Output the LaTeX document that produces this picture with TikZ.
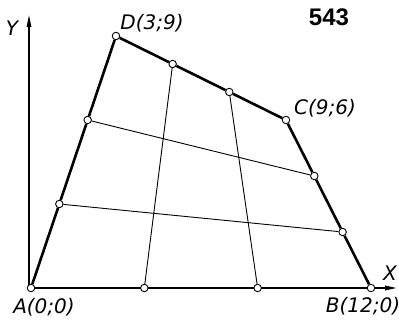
\documentclass[tikz,border=0pt]{standalone}
\usepackage{fontspec}
\usetikzlibrary{arrows.meta}
\newfontfamily\lblfont{DejaVu Sans}
\newfontfamily\numfont{Liberation Sans}
\begin{document}
\begin{tikzpicture}[x=28.33pt,y=28pt,
  pt/.style={circle,draw,fill=white,inner sep=0pt,minimum size=7.5pt,line width=0.9pt},
  edge/.style={line width=2.6pt},
  gridline/.style={line width=0.9pt},
  axis/.style={line width=1.3pt,-{Triangle[length=12pt,width=4.5pt]}},
  lbl/.style={font=\lblfont\itshape\fontsize{20}{22}\selectfont,inner sep=0pt},
  num/.style={font=\numfont\bfseries\fontsize{24}{26}\selectfont,inner sep=0pt},
]
\useasboundingbox (-31pt,-36pt) rectangle (368pt,288pt);
% axes
\coordinate (O) at (-2pt,0pt);
\coordinate (Ytop) at (-2pt,273pt);
\coordinate (Xend) at (366pt,0pt);
\draw[axis] (O) -- (Ytop);
\draw[axis,line width=1.7pt] (O) -- (Xend);
% points
\node[pt] (A) at (0,0) {};
\node[pt] (B) at (12,0) {};
\node[pt] (C) at (9,6) {};
\node[pt] (D) at (3,9) {};
\node[pt] (P1) at (4,0) {};
\node[pt] (P2) at (8,0) {};
\node[pt] (Q1) at (5,8) {};
\node[pt] (Q2) at (7,7) {};
\node[pt] (L1) at (1,3) {};
\node[pt] (L2) at (2,6) {};
\node[pt] (R1) at (11,2) {};
\node[pt] (R2) at (10,4) {};
% edges
\draw[edge] (A) -- (L1) -- (L2) -- (D) -- (Q1) -- (Q2) -- (C) -- (R2) -- (R1) -- (B);
% grid
\draw[gridline] (L1) -- (R1);
\draw[gridline] (L2) -- (R2);
\draw[gridline] (P1) -- (Q1);
\draw[gridline] (P2) -- (Q2);
% labels
\node[lbl] (lD) at (121pt,265pt) {D(3;9)};
\node[lbl] (lC) at (294pt,180pt) {C(9;6)};
\node[lbl] (lA) at (13pt,-19pt) {A(0;0)};
\node[lbl] (lB) at (332pt,-18pt) {B(12;0)};
\node[lbl] (lX) at (359pt,15pt) {X};
\node[lbl] (lY) at (-19pt,260pt) {Y};
\node[num] (n) at (298pt,271pt) {543};
\end{tikzpicture}
\end{document}
